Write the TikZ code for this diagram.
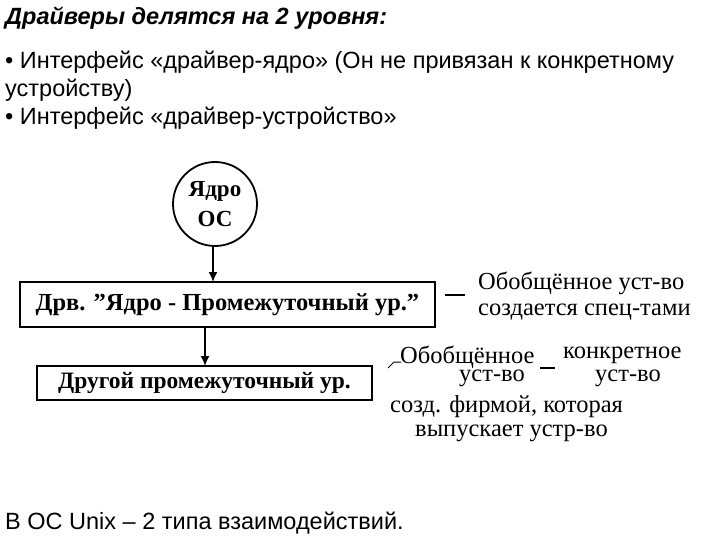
\documentclass[tikz,border=0pt]{standalone}
\usetikzlibrary{arrows.meta}
\usepackage{fontspec}
\setmainfont{Liberation Serif}
\newfontfamily\arialf{Liberation Sans}
\begin{document}
\begin{tikzpicture}[x=1pt,y=-1pt,
  hdr/.style={anchor=west,inner sep=0pt,font=\arialf\fontsize{23.5}{26}\selectfont},
  box/.style={draw,line width=2.2pt,inner sep=0pt,font=\bfseries\fontsize{24.5}{26}\selectfont},
  rt/.style={inner sep=0pt,font=\fontsize{24.5}{26}\selectfont},
  arr/.style={line width=1.6pt,-{Latex[length=10pt,width=9pt]}}]
\useasboundingbox (0,0) rectangle (720,540);
\node[hdr] (h1) at (5,18) {\bfseries\itshape Драйверы делятся на 2 уровня:};
\node[hdr] (h2) at (5,62) {• Интерфейс «драйвер-ядро» (Он не привязан к конкретному};
\node[hdr] (h3) at (5,90) {устройству)};
\node[hdr] (h4) at (5,118) {• Интерфейс «драйвер-устройство»};
\node[hdr] (h5) at (5,523) {В ОС Unix – 2 типа взаимодействий.};
\node[draw,line width=1.8pt,circle,minimum size=84pt,inner sep=0pt,align=center,font=\bfseries\fontsize{23}{30}\selectfont] (c) at (215,204) {Ядро\\ОС};
\node[box,minimum width=415pt,minimum height=45pt] (b1) at (227.5,304.5) {Дрв. \symbol{34}Ядро - Промежуточный ур.\symbol{34}};
\node[box,minimum width=335pt,minimum height=34pt,font=\bfseries\fontsize{23.5}{26}\selectfont] (b2) at (204.5,383) {Другой промежуточный ур.};
\draw[arr] (c.south -| 213,0) -- (213,282);
\draw[arr] (205,327) -- (205,366);
\node[rt,anchor=west,align=left] (t1) at (478,296) {Обобщённое уст-во\\создается спец-тами};
\draw[line width=1.5pt] (445,295) -- (465,295);
\node[rt,anchor=west] (t2) at (400,357) {Обобщённое};
\node[rt] (t3) at (492,378) {уст-во};
\node[rt,anchor=west] (t4) at (563,355) {конкретное};
\node[rt] (t5) at (628,378) {уст-во};
\draw[line width=1.5pt] (540,368) -- (555,368);
\draw[line width=1pt] (388,368) -- (394,362) -- (401,362);
\node[rt,anchor=west] (t6) at (390,407) {созд. фирмой, которая};
\node[rt,anchor=west] (t7) at (415,433) {выпускает устр-во};
\end{tikzpicture}
\end{document}
